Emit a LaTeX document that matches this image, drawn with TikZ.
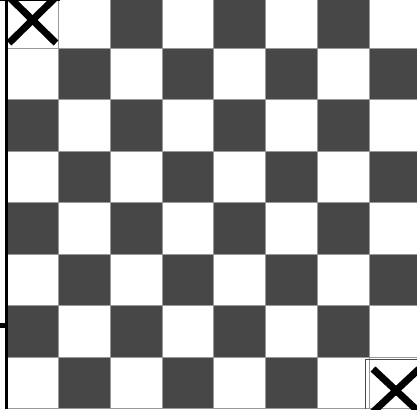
\documentclass[tikz,border=0pt]{standalone}
\begin{document}
\begin{tikzpicture}[x=1pt,y=-1pt,
  darksq/.style={fill=black!72},
  gridln/.style={draw=black!40,line width=0.7pt},
  cross/.style={draw=black,line width=7pt},
  edge/.style={draw=black,line width=3pt}]
\useasboundingbox (0,0) rectangle (417,409);
\fill[white] (0,0) rectangle (417,409);
\begin{scope}
\clip (0,0) rectangle (417,409);
\foreach \r in {0,...,7}{
  \foreach \c in {0,...,7}{
    \pgfmathsetmacro\xa{7+51.7*\c}
    \pgfmathsetmacro\ya{-3.5+51.5*\r}
    \pgfmathtruncatemacro\p{mod(\r+\c,2)}
    \pgfmathtruncatemacro\rem{(\r==0 && \c==0) || (\r==7 && \c==7)}
    \ifnum\p=0 \ifnum\rem=0
      \fill[darksq] (\xa,\ya) rectangle ++(51.7,51.5);
    \fi\fi
    \draw[gridln] (\xa,\ya) rectangle ++(51.7,51.5);
  }
}
% borders of removed squares
\draw[black!70,line width=1pt] (365,409) -- (365,359) -- (417,359);
\draw[black,line width=1.5pt] (0,0.7) -- (60,0.7);
% crosses
\draw[cross] (9,-3) -- (56,43);
\draw[cross] (56,-3) -- (9,43);
\draw[cross] (373,369) -- (419,412);
\draw[cross] (419,369) -- (373,412);
\end{scope}
% left edge and tick
\draw[edge] (6,0) -- (6,409);
\draw[black,line width=5pt] (0,325) -- (6,325);
\end{tikzpicture}
\end{document}
